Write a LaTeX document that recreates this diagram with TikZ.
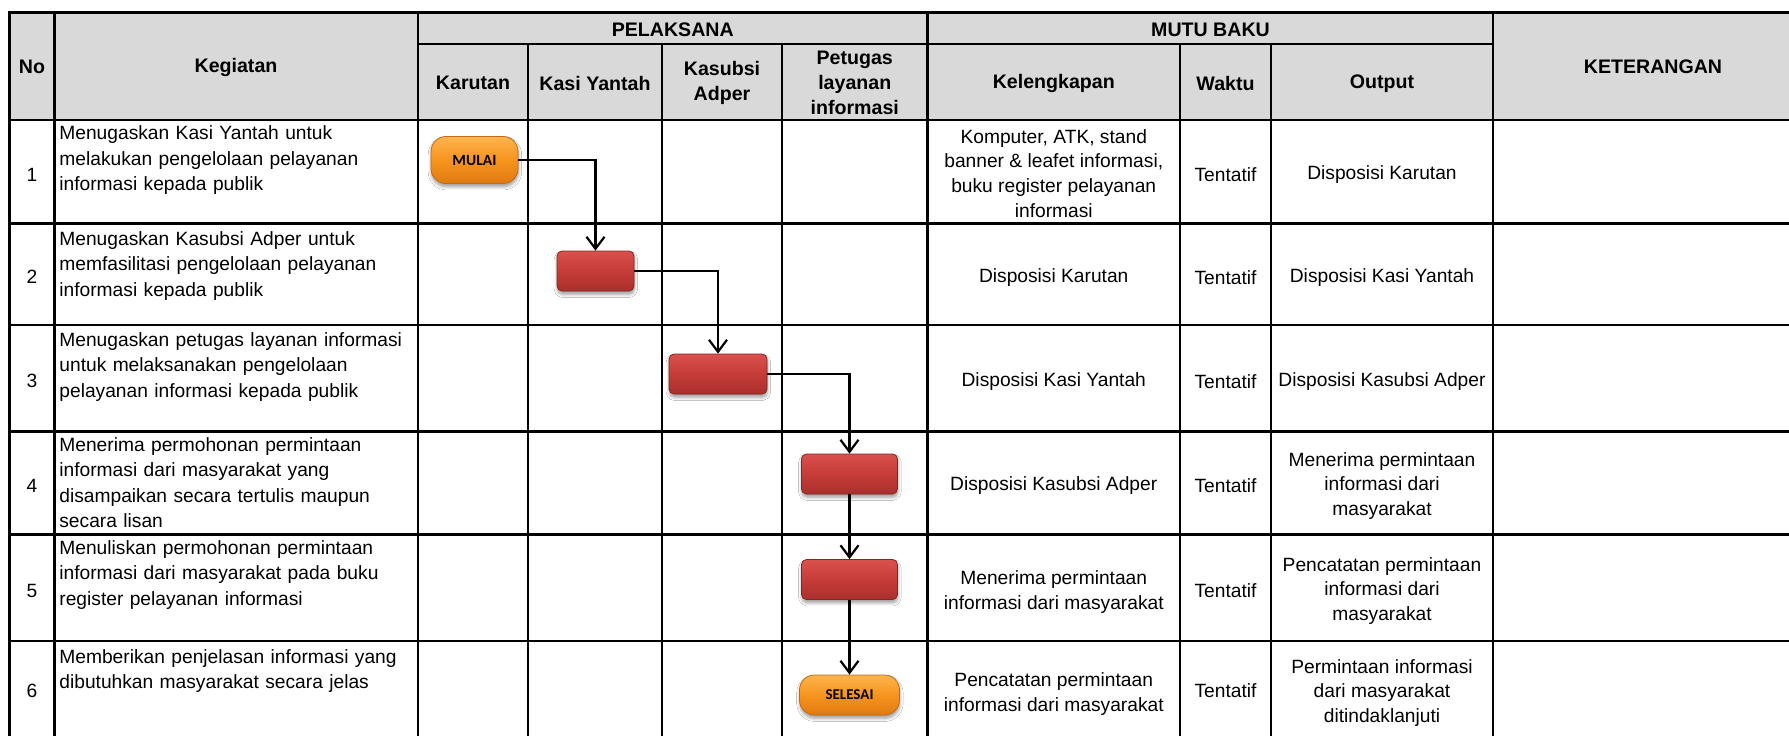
\documentclass[tikz,border=0pt]{standalone}
\usepackage{fontspec}
\setmainfont{Liberation Sans}
\newfontfamily\calibrifont{Carlito}
\usetikzlibrary{arrows.meta,shadows.blur}
\definecolor{hdrgray}{HTML}{D9D9D9}
\definecolor{redtop}{HTML}{D9504C}
\definecolor{redmid}{HTML}{C63C38}
\definecolor{redbot}{HTML}{A9302D}
\definecolor{redline}{HTML}{862624}
\definecolor{ortop}{HTML}{FDB44E}
\definecolor{ormid}{HTML}{F7941E}
\definecolor{orbot}{HTML}{E07A12}
\definecolor{orline}{HTML}{C46A12}
\begin{document}
\begin{tikzpicture}[x=0.5pt,y=-0.5pt,
  gridline/.style={line width=1.2pt,line cap=rect},
  hd/.style={font=\fontsize{9.8}{12.5}\selectfont\bfseries,align=center,inner sep=0pt,yshift=-0.6pt},
  cell/.style={font=\fontsize{9.6}{12.4}\selectfont,align=center,inner sep=0pt,yshift=-1.5pt},
  keg/.style={font=\fontsize{9.6}{12.75}\selectfont,anchor=base west,text width=178pt,align=left,inner sep=0pt},
  shad/.style={blur shadow={shadow xshift=0.2pt,shadow yshift=-1.6pt,shadow blur radius=1.6pt,shadow blur steps=6,shadow opacity=40}},
  procbox/.style={rectangle,rounded corners=2.5pt,draw=redline,line width=0.4pt,
     top color=redtop,bottom color=redbot,middle color=redmid,shad,inner sep=0pt,minimum height=20pt},
  termbox/.style={rectangle,rounded corners=7.5pt,draw=orline,line width=0.4pt,
     top color=ortop,bottom color=orbot,middle color=ormid,shad,inner sep=0pt,
     font=\calibrifont\bfseries},
  conn/.style={line width=1.1pt,-{Straight Barb[length=6pt,width=9pt,line width=1.1pt]}}
]
\useasboundingbox (0,0) rectangle (1789,735);
\fill[white] (0,0) rectangle (1789,735);
% header background
\fill[hdrgray] (9.5,12.5) rectangle (1789,120);

% horizontal grid lines
\draw[gridline] (9.5,12.5) -- (1789,12.5);
\draw[gridline] (418,44) -- (1493,44);
\foreach \yy in {120,223.5,325,431.5,534.5,641}
  \draw[gridline] (9.5,\yy) -- (1789,\yy);
% vertical grid lines
\foreach \xx in {9.5,54.5,418,927.5,1493}
  \draw[gridline] (\xx,12.5) -- (\xx,736);
\foreach \xx in {528,662,782,1180,1271}
  \draw[gridline] (\xx,44) -- (\xx,736);

% header texts
\node[hd] (hNo) at (32,66) {No};
\node[hd] (hKeg) at (236,66) {Kegiatan};
\node[hd] (hPel) at (672.75,28.5) {PELAKSANA};
\node[hd] (hMutu) at (1210.5,28.5) {MUTU BAKU};
\node[hd] (hKar) at (473,82) {Karutan};
\node[hd] (hKasi) at (595,82) {Kasi Yantah};
\node[hd] (hKasub) at (722,82) {Kasubsi\\Adper};
\node[hd] (hPet) at (854.75,82) {Petugas\\layanan\\informasi};
\node[hd] (hKel) at (1053.75,82) {Kelengkapan};
\node[hd] (hWak) at (1225.5,82) {Waktu};
\node[hd] (hOut) at (1382,82) {Output};
\node[hd] (hKet) at (1653,66) {KETERANGAN};

% numbers
\node[cell] (n1) at (32,171.75) {1};
\node[cell] (n2) at (32,274.25) {2};
\node[cell] (n3) at (32,378.25) {3};
\node[cell] (n4) at (32,483) {4};
\node[cell] (n5) at (32,587.75) {5};
\node[cell] (n6) at (32,688) {6};

% kegiatan
\node[keg] (k1) at (59,139.5) {Menugaskan Kasi Yantah untuk\\melakukan pengelolaan pelayanan\\informasi kepada publik};
\node[keg] (k2) at (59,245) {Menugaskan Kasubsi Adper untuk\\memfasilitasi pengelolaan pelayanan\\informasi kepada publik};
\node[keg] (k3) at (59,346) {Menugaskan petugas layanan informasi\\untuk melaksanakan pengelolaan\\pelayanan informasi kepada publik};
\node[keg] (k4) at (59,451) {Menerima permohonan permintaan\\informasi dari masyarakat yang\\disampaikan secara tertulis maupun\\secara lisan};
\node[keg] (k5) at (59,554) {Menuliskan permohonan permintaan\\informasi dari masyarakat pada buku\\register pelayanan informasi};
\node[keg] (k6) at (59,663) {Memberikan penjelasan informasi yang\\dibutuhkan masyarakat secara jelas};

% kelengkapan
\node[cell] (l1) at (1053.75,170.5) {Komputer, ATK, stand\\banner \& leafet informasi,\\buku register pelayanan\\informasi};
\node[cell] (l2) at (1053.75,274.25) {Disposisi Karutan};
\node[cell] (l3) at (1053.75,378.25) {Disposisi Kasi Yantah};
\node[cell] (l4) at (1053.75,483) {Disposisi Kasubsi Adper};
\node[cell] (l5) at (1053.75,589) {Menerima permintaan\\informasi dari masyarakat};
\node[cell] (l6) at (1053.75,691) {Pencatatan permintaan\\informasi dari masyarakat};

% waktu
\node[cell] (w1) at (1225.5,171.75) {Tentatif};
\node[cell] (w2) at (1225.5,274.25) {Tentatif};
\node[cell] (w3) at (1225.5,378.25) {Tentatif};
\node[cell] (w4) at (1225.5,483) {Tentatif};
\node[cell] (w5) at (1225.5,587.75) {Tentatif};
\node[cell] (w6) at (1225.5,688) {Tentatif};

% output
\node[cell] (o1) at (1382,171.75) {Disposisi Karutan};
\node[cell] (o2) at (1382,274.25) {Disposisi Kasi Yantah};
\node[cell] (o3) at (1382,378.25) {Disposisi Kasubsi Adper};
\node[cell] (o4) at (1382,483) {Menerima permintaan\\informasi dari\\masyarakat};
\node[cell] (o5) at (1382,588) {Pencatatan permintaan\\informasi dari\\masyarakat};
\node[cell] (o6) at (1382,690) {Permintaan informasi\\dari masyarakat\\ditindaklanjuti};

% flow shapes
\node[termbox,minimum width=43.5pt,minimum height=23.5pt,font=\calibrifont\bfseries\fontsize{7.8}{9}\selectfont] (mulai) at (474.5,160) {MULAI};
\node[procbox,minimum width=38.5pt] (b2) at (595.5,271) {};
\node[procbox,minimum width=49pt] (b3) at (718,374) {};
\node[procbox,minimum width=48pt] (b4) at (849.5,474) {};
\node[procbox,minimum width=48pt] (b5) at (849.5,579.5) {};
\node[termbox,minimum width=50pt,minimum height=20pt,font=\calibrifont\bfseries\fontsize{7.5}{9}\selectfont] (selesai) at (849.5,695) {SELESAI};

% connectors
\draw[conn] (mulai.east) -| (b2.north);
\draw[conn] (b2.east) -| (b3.north);
\draw[conn] (b3.east) -| (b4.north);
\draw[conn] (b4.south) -- (b5.north);
\draw[conn] (b5.south) -- (selesai.north);
\end{tikzpicture}
\end{document}
